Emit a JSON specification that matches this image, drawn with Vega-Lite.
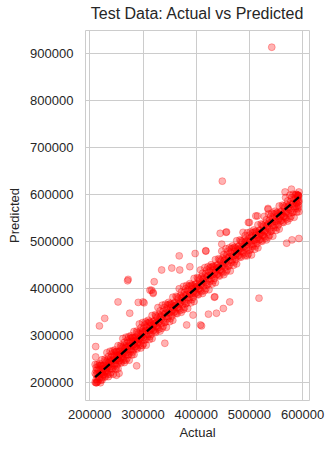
{
  "$schema": "https://vega.github.io/schema/vega-lite/v6.json",
  "autosize": {"type": "none"},
  "width": 224,
  "height": 370,
  "padding": {"left": 85, "top": 30, "right": 26, "bottom": 49},
  "background": "white",
  "title": {"text": "Test Data: Actual vs Predicted", "font": "Liberation Sans", "fontSize": 16, "fontWeight": "normal", "color": "#262626", "offset": 8},
  "config": {
    "view": {"stroke": "#cccccc", "strokeWidth": 1},
    "axis": {"labelFont": "Liberation Sans", "titleFont": "Liberation Sans", "labelFontSize": 13, "titleFontSize": 13, "titleFontWeight": "normal", "labelColor": "#262626", "titleColor": "#262626", "ticks": false, "domain": false, "gridColor": "#cccccc", "gridWidth": 1, "gridOpacity": 1, "format": "d"}
  },
  "datasets": {
    "pts": [
      {"actual":211000,"predicted":200000},{"actual":211000,"predicted":219000},{"actual":211000,"predicted":238000},
      {"actual":213000,"predicted":199000},{"actual":213000,"predicted":216000},{"actual":213000,"predicted":231000},
      {"actual":216000,"predicted":202000},{"actual":216000,"predicted":227000},{"actual":216000,"predicted":211000},
      {"actual":219000,"predicted":210000},{"actual":219000,"predicted":219000},{"actual":219000,"predicted":240000},
      {"actual":222000,"predicted":205000},{"actual":222000,"predicted":228000},{"actual":222000,"predicted":236000},
      {"actual":224000,"predicted":221000},{"actual":224000,"predicted":205000},{"actual":224000,"predicted":248000},
      {"actual":227000,"predicted":216000},{"actual":227000,"predicted":229000},{"actual":227000,"predicted":236000},
      {"actual":230000,"predicted":211000},{"actual":230000,"predicted":246000},{"actual":230000,"predicted":224000},
      {"actual":233000,"predicted":263000},{"actual":233000,"predicted":231000},{"actual":233000,"predicted":220000},
      {"actual":236000,"predicted":241000},{"actual":236000,"predicted":255000},{"actual":236000,"predicted":212000},
      {"actual":239000,"predicted":217000},{"actual":239000,"predicted":247000},{"actual":239000,"predicted":266000},
      {"actual":242000,"predicted":228000},{"actual":242000,"predicted":245000},{"actual":242000,"predicted":260000},
      {"actual":245000,"predicted":217000},{"actual":245000,"predicted":256000},{"actual":245000,"predicted":240000},
      {"actual":248000,"predicted":239000},{"actual":248000,"predicted":248000},{"actual":248000,"predicted":269000},
      {"actual":251000,"predicted":234000},{"actual":251000,"predicted":257000},{"actual":251000,"predicted":265000},
      {"actual":254000,"predicted":251000},{"actual":254000,"predicted":229000},{"actual":254000,"predicted":278000},
      {"actual":257000,"predicted":246000},{"actual":257000,"predicted":259000},{"actual":257000,"predicted":266000},
      {"actual":260000,"predicted":241000},{"actual":260000,"predicted":276000},{"actual":260000,"predicted":254000},
      {"actual":263000,"predicted":293000},{"actual":263000,"predicted":261000},{"actual":263000,"predicted":250000},
      {"actual":266000,"predicted":271000},{"actual":266000,"predicted":285000},{"actual":266000,"predicted":242000},
      {"actual":269000,"predicted":247000},{"actual":269000,"predicted":277000},{"actual":269000,"predicted":296000},
      {"actual":272000,"predicted":258000},{"actual":272000,"predicted":275000},{"actual":272000,"predicted":290000},
      {"actual":275000,"predicted":247000},{"actual":275000,"predicted":286000},{"actual":275000,"predicted":270000},
      {"actual":278000,"predicted":269000},{"actual":278000,"predicted":278000},{"actual":278000,"predicted":299000},
      {"actual":281000,"predicted":264000},{"actual":281000,"predicted":287000},{"actual":281000,"predicted":295000},
      {"actual":284000,"predicted":281000},{"actual":284000,"predicted":259000},{"actual":284000,"predicted":308000},
      {"actual":287000,"predicted":276000},{"actual":287000,"predicted":289000},{"actual":287000,"predicted":296000},
      {"actual":290000,"predicted":271000},{"actual":290000,"predicted":306000},{"actual":290000,"predicted":284000},
      {"actual":294000,"predicted":324000},{"actual":294000,"predicted":292000},{"actual":294000,"predicted":281000},
      {"actual":297000,"predicted":302000},{"actual":297000,"predicted":316000},{"actual":297000,"predicted":273000},
      {"actual":300000,"predicted":278000},{"actual":300000,"predicted":308000},{"actual":300000,"predicted":327000},
      {"actual":304000,"predicted":290000},{"actual":304000,"predicted":307000},{"actual":304000,"predicted":322000},
      {"actual":307000,"predicted":279000},{"actual":307000,"predicted":318000},{"actual":307000,"predicted":302000},
      {"actual":311000,"predicted":302000},{"actual":311000,"predicted":311000},{"actual":311000,"predicted":332000},
      {"actual":314000,"predicted":297000},{"actual":314000,"predicted":320000},{"actual":314000,"predicted":328000},
      {"actual":318000,"predicted":315000},{"actual":318000,"predicted":293000},{"actual":318000,"predicted":342000},
      {"actual":322000,"predicted":311000},{"actual":322000,"predicted":324000},{"actual":322000,"predicted":331000},
      {"actual":325000,"predicted":306000},{"actual":325000,"predicted":341000},{"actual":325000,"predicted":319000},
      {"actual":329000,"predicted":359000},{"actual":329000,"predicted":327000},{"actual":329000,"predicted":316000},
      {"actual":333000,"predicted":338000},{"actual":333000,"predicted":352000},{"actual":333000,"predicted":309000},
      {"actual":337000,"predicted":315000},{"actual":337000,"predicted":345000},{"actual":337000,"predicted":364000},
      {"actual":341000,"predicted":327000},{"actual":341000,"predicted":344000},{"actual":341000,"predicted":359000},
      {"actual":345000,"predicted":317000},{"actual":345000,"predicted":356000},{"actual":345000,"predicted":340000},
      {"actual":349000,"predicted":340000},{"actual":349000,"predicted":349000},{"actual":349000,"predicted":370000},
      {"actual":353000,"predicted":336000},{"actual":353000,"predicted":359000},{"actual":353000,"predicted":367000},
      {"actual":357000,"predicted":354000},{"actual":357000,"predicted":332000},{"actual":357000,"predicted":381000},
      {"actual":361000,"predicted":350000},{"actual":361000,"predicted":363000},{"actual":361000,"predicted":370000},
      {"actual":365000,"predicted":346000},{"actual":365000,"predicted":381000},{"actual":365000,"predicted":359000},
      {"actual":369000,"predicted":399000},{"actual":369000,"predicted":367000},{"actual":369000,"predicted":356000},
      {"actual":373000,"predicted":378000},{"actual":373000,"predicted":392000},{"actual":373000,"predicted":349000},
      {"actual":377000,"predicted":355000},{"actual":377000,"predicted":385000},{"actual":377000,"predicted":404000},
      {"actual":381000,"predicted":367000},{"actual":381000,"predicted":384000},{"actual":381000,"predicted":399000},
      {"actual":385000,"predicted":357000},{"actual":385000,"predicted":396000},{"actual":385000,"predicted":380000},
      {"actual":389000,"predicted":380000},{"actual":389000,"predicted":389000},{"actual":389000,"predicted":410000},
      {"actual":393000,"predicted":376000},{"actual":393000,"predicted":399000},{"actual":393000,"predicted":407000},
      {"actual":397000,"predicted":394000},{"actual":397000,"predicted":372000},{"actual":397000,"predicted":421000},
      {"actual":401000,"predicted":390000},{"actual":401000,"predicted":403000},{"actual":401000,"predicted":410000},
      {"actual":405000,"predicted":386000},{"actual":405000,"predicted":421000},{"actual":405000,"predicted":399000},
      {"actual":409000,"predicted":439000},{"actual":409000,"predicted":407000},{"actual":409000,"predicted":396000},
      {"actual":413000,"predicted":418000},{"actual":413000,"predicted":432000},{"actual":413000,"predicted":389000},
      {"actual":417000,"predicted":395000},{"actual":417000,"predicted":425000},{"actual":417000,"predicted":444000},
      {"actual":421000,"predicted":407000},{"actual":421000,"predicted":424000},{"actual":421000,"predicted":439000},
      {"actual":425000,"predicted":397000},{"actual":425000,"predicted":436000},{"actual":425000,"predicted":420000},
      {"actual":429000,"predicted":420000},{"actual":429000,"predicted":429000},{"actual":429000,"predicted":450000},
      {"actual":433000,"predicted":416000},{"actual":433000,"predicted":439000},{"actual":433000,"predicted":447000},
      {"actual":437000,"predicted":434000},{"actual":437000,"predicted":412000},{"actual":437000,"predicted":461000},
      {"actual":441000,"predicted":430000},{"actual":441000,"predicted":443000},{"actual":441000,"predicted":450000},
      {"actual":445000,"predicted":426000},{"actual":445000,"predicted":461000},{"actual":445000,"predicted":439000},
      {"actual":449000,"predicted":479000},{"actual":449000,"predicted":447000},{"actual":449000,"predicted":436000},
      {"actual":453000,"predicted":458000},{"actual":453000,"predicted":472000},{"actual":453000,"predicted":429000},
      {"actual":457000,"predicted":435000},{"actual":457000,"predicted":465000},{"actual":457000,"predicted":484000},
      {"actual":461000,"predicted":447000},{"actual":461000,"predicted":464000},{"actual":461000,"predicted":479000},
      {"actual":465000,"predicted":437000},{"actual":465000,"predicted":476000},{"actual":465000,"predicted":460000},
      {"actual":469000,"predicted":460000},{"actual":469000,"predicted":469000},{"actual":469000,"predicted":490000},
      {"actual":473000,"predicted":456000},{"actual":473000,"predicted":479000},{"actual":473000,"predicted":487000},
      {"actual":477000,"predicted":474000},{"actual":477000,"predicted":452000},{"actual":477000,"predicted":501000},
      {"actual":481000,"predicted":470000},{"actual":481000,"predicted":483000},{"actual":481000,"predicted":490000},
      {"actual":485000,"predicted":466000},{"actual":485000,"predicted":501000},{"actual":485000,"predicted":479000},
      {"actual":489000,"predicted":519000},{"actual":489000,"predicted":487000},{"actual":489000,"predicted":476000},
      {"actual":493000,"predicted":498000},{"actual":493000,"predicted":512000},{"actual":493000,"predicted":469000},
      {"actual":497000,"predicted":469000},{"actual":497000,"predicted":499000},{"actual":497000,"predicted":518000},
      {"actual":501000,"predicted":481000},{"actual":501000,"predicted":498000},{"actual":501000,"predicted":513000},
      {"actual":505000,"predicted":471000},{"actual":505000,"predicted":510000},{"actual":505000,"predicted":494000},
      {"actual":509000,"predicted":494000},{"actual":509000,"predicted":503000},{"actual":509000,"predicted":524000},
      {"actual":513000,"predicted":490000},{"actual":513000,"predicted":513000},{"actual":513000,"predicted":521000},
      {"actual":517000,"predicted":508000},{"actual":517000,"predicted":486000},{"actual":517000,"predicted":535000},
      {"actual":521000,"predicted":504000},{"actual":521000,"predicted":517000},{"actual":521000,"predicted":524000},
      {"actual":525000,"predicted":500000},{"actual":525000,"predicted":535000},{"actual":525000,"predicted":513000},
      {"actual":529000,"predicted":553000},{"actual":529000,"predicted":521000},{"actual":529000,"predicted":510000},
      {"actual":533000,"predicted":532000},{"actual":533000,"predicted":546000},{"actual":533000,"predicted":503000},
      {"actual":537000,"predicted":509000},{"actual":537000,"predicted":539000},{"actual":537000,"predicted":558000},
      {"actual":541000,"predicted":521000},{"actual":541000,"predicted":538000},{"actual":541000,"predicted":553000},
      {"actual":545000,"predicted":511000},{"actual":545000,"predicted":550000},{"actual":545000,"predicted":534000},
      {"actual":549000,"predicted":534000},{"actual":549000,"predicted":543000},{"actual":549000,"predicted":564000},
      {"actual":553000,"predicted":530000},{"actual":553000,"predicted":553000},{"actual":553000,"predicted":561000},
      {"actual":557000,"predicted":548000},{"actual":557000,"predicted":526000},{"actual":557000,"predicted":575000},
      {"actual":561000,"predicted":544000},{"actual":561000,"predicted":557000},{"actual":561000,"predicted":564000},
      {"actual":565000,"predicted":540000},{"actual":565000,"predicted":575000},{"actual":565000,"predicted":553000},
      {"actual":569000,"predicted":593000},{"actual":569000,"predicted":561000},{"actual":569000,"predicted":550000},
      {"actual":573000,"predicted":572000},{"actual":573000,"predicted":586000},{"actual":573000,"predicted":543000},
      {"actual":577000,"predicted":549000},{"actual":577000,"predicted":579000},{"actual":577000,"predicted":598000},
      {"actual":581000,"predicted":561000},{"actual":581000,"predicted":578000},{"actual":581000,"predicted":593000},
      {"actual":585000,"predicted":551000},{"actual":585000,"predicted":590000},{"actual":585000,"predicted":574000},
      {"actual":589000,"predicted":574000},{"actual":589000,"predicted":583000},{"actual":589000,"predicted":600000},
      {"actual":592000,"predicted":569000},{"actual":592000,"predicted":592000},{"actual":592000,"predicted":598000},
      {"actual":594000,"predicted":585000},{"actual":594000,"predicted":563000},{"actual":594000,"predicted":605000},
      {"actual":213000,"predicted":206000},{"actual":213000,"predicted":225000},{"actual":213000,"predicted":199000},
      {"actual":215000,"predicted":219000},{"actual":215000,"predicted":200000},{"actual":215000,"predicted":238000},
      {"actual":218000,"predicted":206000},{"actual":218000,"predicted":225000},{"actual":218000,"predicted":235000},
      {"actual":221000,"predicted":236000},{"actual":221000,"predicted":218000},{"actual":221000,"predicted":199000},
      {"actual":224000,"predicted":220000},{"actual":224000,"predicted":234000},{"actual":224000,"predicted":210000},
      {"actual":226000,"predicted":235000},{"actual":226000,"predicted":216000},{"actual":226000,"predicted":227000},
      {"actual":229000,"predicted":213000},{"actual":229000,"predicted":230000},{"actual":229000,"predicted":249000},
      {"actual":232000,"predicted":234000},{"actual":232000,"predicted":224000},{"actual":232000,"predicted":243000},
      {"actual":235000,"predicted":248000},{"actual":235000,"predicted":217000},{"actual":235000,"predicted":233000},
      {"actual":238000,"predicted":237000},{"actual":238000,"predicted":244000},{"actual":238000,"predicted":228000},
      {"actual":241000,"predicted":234000},{"actual":241000,"predicted":253000},{"actual":241000,"predicted":221000},
      {"actual":244000,"predicted":248000},{"actual":244000,"predicted":229000},{"actual":244000,"predicted":267000},
      {"actual":247000,"predicted":235000},{"actual":247000,"predicted":254000},{"actual":247000,"predicted":264000},
      {"actual":250000,"predicted":265000},{"actual":250000,"predicted":247000},{"actual":250000,"predicted":228000},
      {"actual":253000,"predicted":249000},{"actual":253000,"predicted":263000},{"actual":253000,"predicted":239000},
      {"actual":256000,"predicted":265000},{"actual":256000,"predicted":246000},{"actual":256000,"predicted":257000},
      {"actual":259000,"predicted":243000},{"actual":259000,"predicted":260000},{"actual":259000,"predicted":279000},
      {"actual":262000,"predicted":264000},{"actual":262000,"predicted":254000},{"actual":262000,"predicted":273000},
      {"actual":265000,"predicted":278000},{"actual":265000,"predicted":247000},{"actual":265000,"predicted":263000},
      {"actual":268000,"predicted":267000},{"actual":268000,"predicted":274000},{"actual":268000,"predicted":258000},
      {"actual":271000,"predicted":264000},{"actual":271000,"predicted":283000},{"actual":271000,"predicted":251000},
      {"actual":274000,"predicted":278000},{"actual":274000,"predicted":259000},{"actual":274000,"predicted":297000},
      {"actual":277000,"predicted":265000},{"actual":277000,"predicted":284000},{"actual":277000,"predicted":294000},
      {"actual":280000,"predicted":295000},{"actual":280000,"predicted":277000},{"actual":280000,"predicted":258000},
      {"actual":283000,"predicted":279000},{"actual":283000,"predicted":293000},{"actual":283000,"predicted":269000},
      {"actual":286000,"predicted":295000},{"actual":286000,"predicted":276000},{"actual":286000,"predicted":287000},
      {"actual":289000,"predicted":273000},{"actual":289000,"predicted":290000},{"actual":289000,"predicted":309000},
      {"actual":292000,"predicted":294000},{"actual":292000,"predicted":284000},{"actual":292000,"predicted":303000},
      {"actual":296000,"predicted":309000},{"actual":296000,"predicted":278000},{"actual":296000,"predicted":294000},
      {"actual":299000,"predicted":298000},{"actual":299000,"predicted":305000},{"actual":299000,"predicted":289000},
      {"actual":302000,"predicted":295000},{"actual":302000,"predicted":314000},{"actual":302000,"predicted":282000},
      {"actual":306000,"predicted":310000},{"actual":306000,"predicted":291000},{"actual":306000,"predicted":329000},
      {"actual":309000,"predicted":297000},{"actual":309000,"predicted":316000},{"actual":309000,"predicted":326000},
      {"actual":313000,"predicted":328000},{"actual":313000,"predicted":310000},{"actual":313000,"predicted":291000},
      {"actual":316000,"predicted":312000},{"actual":316000,"predicted":326000},{"actual":316000,"predicted":302000},
      {"actual":320000,"predicted":329000},{"actual":320000,"predicted":310000},{"actual":320000,"predicted":321000},
      {"actual":324000,"predicted":308000},{"actual":324000,"predicted":325000},{"actual":324000,"predicted":344000},
      {"actual":327000,"predicted":329000},{"actual":327000,"predicted":319000},{"actual":327000,"predicted":338000},
      {"actual":331000,"predicted":344000},{"actual":331000,"predicted":313000},{"actual":331000,"predicted":329000},
      {"actual":335000,"predicted":334000},{"actual":335000,"predicted":341000},{"actual":335000,"predicted":325000},
      {"actual":339000,"predicted":332000},{"actual":339000,"predicted":351000},{"actual":339000,"predicted":319000},
      {"actual":343000,"predicted":347000},{"actual":343000,"predicted":328000},{"actual":343000,"predicted":366000},
      {"actual":347000,"predicted":335000},{"actual":347000,"predicted":354000},{"actual":347000,"predicted":364000},
      {"actual":351000,"predicted":366000},{"actual":351000,"predicted":348000},{"actual":351000,"predicted":329000},
      {"actual":355000,"predicted":351000},{"actual":355000,"predicted":365000},{"actual":355000,"predicted":341000},
      {"actual":359000,"predicted":368000},{"actual":359000,"predicted":349000},{"actual":359000,"predicted":360000},
      {"actual":363000,"predicted":347000},{"actual":363000,"predicted":364000},{"actual":363000,"predicted":383000},
      {"actual":367000,"predicted":369000},{"actual":367000,"predicted":359000},{"actual":367000,"predicted":378000},
      {"actual":371000,"predicted":384000},{"actual":371000,"predicted":353000},{"actual":371000,"predicted":369000},
      {"actual":375000,"predicted":374000},{"actual":375000,"predicted":381000},{"actual":375000,"predicted":365000},
      {"actual":379000,"predicted":372000},{"actual":379000,"predicted":391000},{"actual":379000,"predicted":359000},
      {"actual":383000,"predicted":387000},{"actual":383000,"predicted":368000},{"actual":383000,"predicted":406000},
      {"actual":387000,"predicted":375000},{"actual":387000,"predicted":394000},{"actual":387000,"predicted":404000},
      {"actual":391000,"predicted":406000},{"actual":391000,"predicted":388000},{"actual":391000,"predicted":369000},
      {"actual":395000,"predicted":391000},{"actual":395000,"predicted":405000},{"actual":395000,"predicted":381000},
      {"actual":399000,"predicted":408000},{"actual":399000,"predicted":389000},{"actual":399000,"predicted":400000},
      {"actual":403000,"predicted":387000},{"actual":403000,"predicted":404000},{"actual":403000,"predicted":423000},
      {"actual":407000,"predicted":409000},{"actual":407000,"predicted":399000},{"actual":407000,"predicted":418000},
      {"actual":411000,"predicted":424000},{"actual":411000,"predicted":393000},{"actual":411000,"predicted":409000},
      {"actual":415000,"predicted":414000},{"actual":415000,"predicted":421000},{"actual":415000,"predicted":405000},
      {"actual":419000,"predicted":412000},{"actual":419000,"predicted":431000},{"actual":419000,"predicted":399000},
      {"actual":423000,"predicted":427000},{"actual":423000,"predicted":408000},{"actual":423000,"predicted":446000},
      {"actual":427000,"predicted":415000},{"actual":427000,"predicted":434000},{"actual":427000,"predicted":444000},
      {"actual":431000,"predicted":446000},{"actual":431000,"predicted":428000},{"actual":431000,"predicted":409000},
      {"actual":435000,"predicted":431000},{"actual":435000,"predicted":445000},{"actual":435000,"predicted":421000},
      {"actual":439000,"predicted":448000},{"actual":439000,"predicted":429000},{"actual":439000,"predicted":440000},
      {"actual":443000,"predicted":427000},{"actual":443000,"predicted":444000},{"actual":443000,"predicted":463000},
      {"actual":447000,"predicted":449000},{"actual":447000,"predicted":439000},{"actual":447000,"predicted":458000},
      {"actual":451000,"predicted":464000},{"actual":451000,"predicted":433000},{"actual":451000,"predicted":449000},
      {"actual":455000,"predicted":454000},{"actual":455000,"predicted":461000},{"actual":455000,"predicted":445000},
      {"actual":459000,"predicted":452000},{"actual":459000,"predicted":471000},{"actual":459000,"predicted":439000},
      {"actual":463000,"predicted":467000},{"actual":463000,"predicted":448000},{"actual":463000,"predicted":486000},
      {"actual":467000,"predicted":455000},{"actual":467000,"predicted":474000},{"actual":467000,"predicted":484000},
      {"actual":471000,"predicted":486000},{"actual":471000,"predicted":468000},{"actual":471000,"predicted":449000},
      {"actual":475000,"predicted":471000},{"actual":475000,"predicted":485000},{"actual":475000,"predicted":461000},
      {"actual":479000,"predicted":488000},{"actual":479000,"predicted":469000},{"actual":479000,"predicted":480000},
      {"actual":483000,"predicted":467000},{"actual":483000,"predicted":484000},{"actual":483000,"predicted":503000},
      {"actual":487000,"predicted":489000},{"actual":487000,"predicted":479000},{"actual":487000,"predicted":498000},
      {"actual":491000,"predicted":504000},{"actual":491000,"predicted":473000},{"actual":491000,"predicted":489000},
      {"actual":495000,"predicted":494000},{"actual":495000,"predicted":501000},{"actual":495000,"predicted":485000},
      {"actual":499000,"predicted":486000},{"actual":499000,"predicted":505000},{"actual":499000,"predicted":473000},
      {"actual":503000,"predicted":501000},{"actual":503000,"predicted":482000},{"actual":503000,"predicted":520000},
      {"actual":507000,"predicted":489000},{"actual":507000,"predicted":508000},{"actual":507000,"predicted":518000},
      {"actual":511000,"predicted":520000},{"actual":511000,"predicted":502000},{"actual":511000,"predicted":483000},
      {"actual":515000,"predicted":505000},{"actual":515000,"predicted":519000},{"actual":515000,"predicted":495000},
      {"actual":519000,"predicted":522000},{"actual":519000,"predicted":503000},{"actual":519000,"predicted":514000},
      {"actual":523000,"predicted":501000},{"actual":523000,"predicted":518000},{"actual":523000,"predicted":537000},
      {"actual":527000,"predicted":523000},{"actual":527000,"predicted":513000},{"actual":527000,"predicted":532000},
      {"actual":531000,"predicted":538000},{"actual":531000,"predicted":507000},{"actual":531000,"predicted":523000},
      {"actual":535000,"predicted":528000},{"actual":535000,"predicted":535000},{"actual":535000,"predicted":519000},
      {"actual":539000,"predicted":526000},{"actual":539000,"predicted":545000},{"actual":539000,"predicted":513000},
      {"actual":543000,"predicted":541000},{"actual":543000,"predicted":522000},{"actual":543000,"predicted":560000},
      {"actual":547000,"predicted":529000},{"actual":547000,"predicted":548000},{"actual":547000,"predicted":558000},
      {"actual":551000,"predicted":560000},{"actual":551000,"predicted":542000},{"actual":551000,"predicted":523000},
      {"actual":555000,"predicted":545000},{"actual":555000,"predicted":559000},{"actual":555000,"predicted":535000},
      {"actual":559000,"predicted":562000},{"actual":559000,"predicted":543000},{"actual":559000,"predicted":554000},
      {"actual":563000,"predicted":541000},{"actual":563000,"predicted":558000},{"actual":563000,"predicted":577000},
      {"actual":567000,"predicted":563000},{"actual":567000,"predicted":553000},{"actual":567000,"predicted":572000},
      {"actual":571000,"predicted":578000},{"actual":571000,"predicted":547000},{"actual":571000,"predicted":563000},
      {"actual":575000,"predicted":568000},{"actual":575000,"predicted":575000},{"actual":575000,"predicted":559000},
      {"actual":579000,"predicted":566000},{"actual":579000,"predicted":585000},{"actual":579000,"predicted":553000},
      {"actual":583000,"predicted":581000},{"actual":583000,"predicted":562000},{"actual":583000,"predicted":600000},
      {"actual":587000,"predicted":569000},{"actual":587000,"predicted":588000},{"actual":587000,"predicted":598000},
      {"actual":590000,"predicted":599000},{"actual":590000,"predicted":581000},{"actual":590000,"predicted":562000},
      {"actual":593000,"predicted":583000},{"actual":593000,"predicted":597000},{"actual":593000,"predicted":573000},
      {"actual":593000,"predicted":596000},{"actual":593000,"predicted":577000},{"actual":593000,"predicted":588000},
      {"actual":543000,"predicted":913000},{"actual":450000,"predicted":628000},{"actual":519000,"predicted":379000},
      {"actual":273000,"predicted":419000},{"actual":254000,"predicted":371000},{"actual":219000,"predicted":320000},
      {"actual":229000,"predicted":336000},{"actual":369000,"predicted":469000},{"actual":399000,"predicted":474000},
      {"actual":419000,"predicted":479000},{"actual":336000,"predicted":439000},{"actual":571000,"predicted":496000},
      {"actual":581000,"predicted":503000},{"actual":594000,"predicted":506000},{"actual":424000,"predicted":345000},
      {"actual":439000,"predicted":347000},{"actual":452000,"predicted":357000},{"actual":464000,"predicted":371000},
      {"actual":411000,"predicted":320000},{"actual":435000,"predicted":381000},{"actual":383000,"predicted":322000},
      {"actual":395000,"predicted":343000},{"actual":342000,"predicted":283000},{"actual":289000,"predicted":235000},
      {"actual":256000,"predicted":219000},{"actual":457000,"predicted":519000},{"actual":516000,"predicted":554000},
      {"actual":536000,"predicted":568000},{"actual":501000,"predicted":540000},{"actual":301000,"predicted":371000},
      {"actual":314000,"predicted":396000},{"actual":212000,"predicted":276000},{"actual":212000,"predicted":254000},
      {"actual":276000,"predicted":347000},{"actual":292000,"predicted":370000},{"actual":303000,"predicted":369000},
      {"actual":320000,"predicted":391000},{"actual":322000,"predicted":414000},{"actual":272000,"predicted":416000},
      {"actual":409000,"predicted":322000},{"actual":251000,"predicted":215000},{"actual":355000,"predicted":443000},
      {"actual":370000,"predicted":439000},{"actual":389000,"predicted":446000},{"actual":317000,"predicted":396000},
      {"actual":320000,"predicted":389000},{"actual":436000,"predicted":382000},{"actual":458000,"predicted":520000},
      {"actual":446000,"predicted":517000},{"actual":499000,"predicted":540000},{"actual":513000,"predicted":554000},
      {"actual":580000,"predicted":611000},{"actual":568000,"predicted":605000},{"actual":593000,"predicted":598000},
      {"actual":536000,"predicted":570000},{"actual":449000,"predicted":494000},{"actual":419000,"predicted":480000}
    ],
    "diag": [
      {"actual":211000,"predicted":211000},
      {"actual":594000,"predicted":594000}
    ]
  },
  "layer": [
    {
      "data": {"name": "pts"},
      "mark": {"type": "circle", "size": 48, "color": "#ff0000", "fillOpacity": 0.3, "stroke": "#ff0000", "strokeOpacity": 0.3, "strokeWidth": 1, "opacity": 1},
      "encoding": {
        "x": {"field": "actual", "type": "quantitative", "title": "Actual",
              "scale": {"domain": [191900, 613000], "nice": false, "zero": false},
              "axis": {"values": [200000, 300000, 400000, 500000, 600000], "labelPadding": 8, "titlePadding": 5, "labelFlush": false, "labelOverlap": false}},
        "y": {"field": "predicted", "type": "quantitative", "title": "Predicted",
              "scale": {"domain": [162300, 949600], "nice": false, "zero": false},
              "axis": {"values": [200000, 300000, 400000, 500000, 600000, 700000, 800000, 900000], "labelPadding": 12, "titlePadding": 8, "labelFlush": false, "labelOverlap": false}}
      }
    },
    {
      "data": {"name": "diag"},
      "mark": {"type": "line", "color": "black", "strokeWidth": 2.3, "strokeDash": [8, 3.5]},
      "encoding": {
        "x": {"field": "actual", "type": "quantitative"},
        "y": {"field": "predicted", "type": "quantitative"}
      }
    }
  ]
}
